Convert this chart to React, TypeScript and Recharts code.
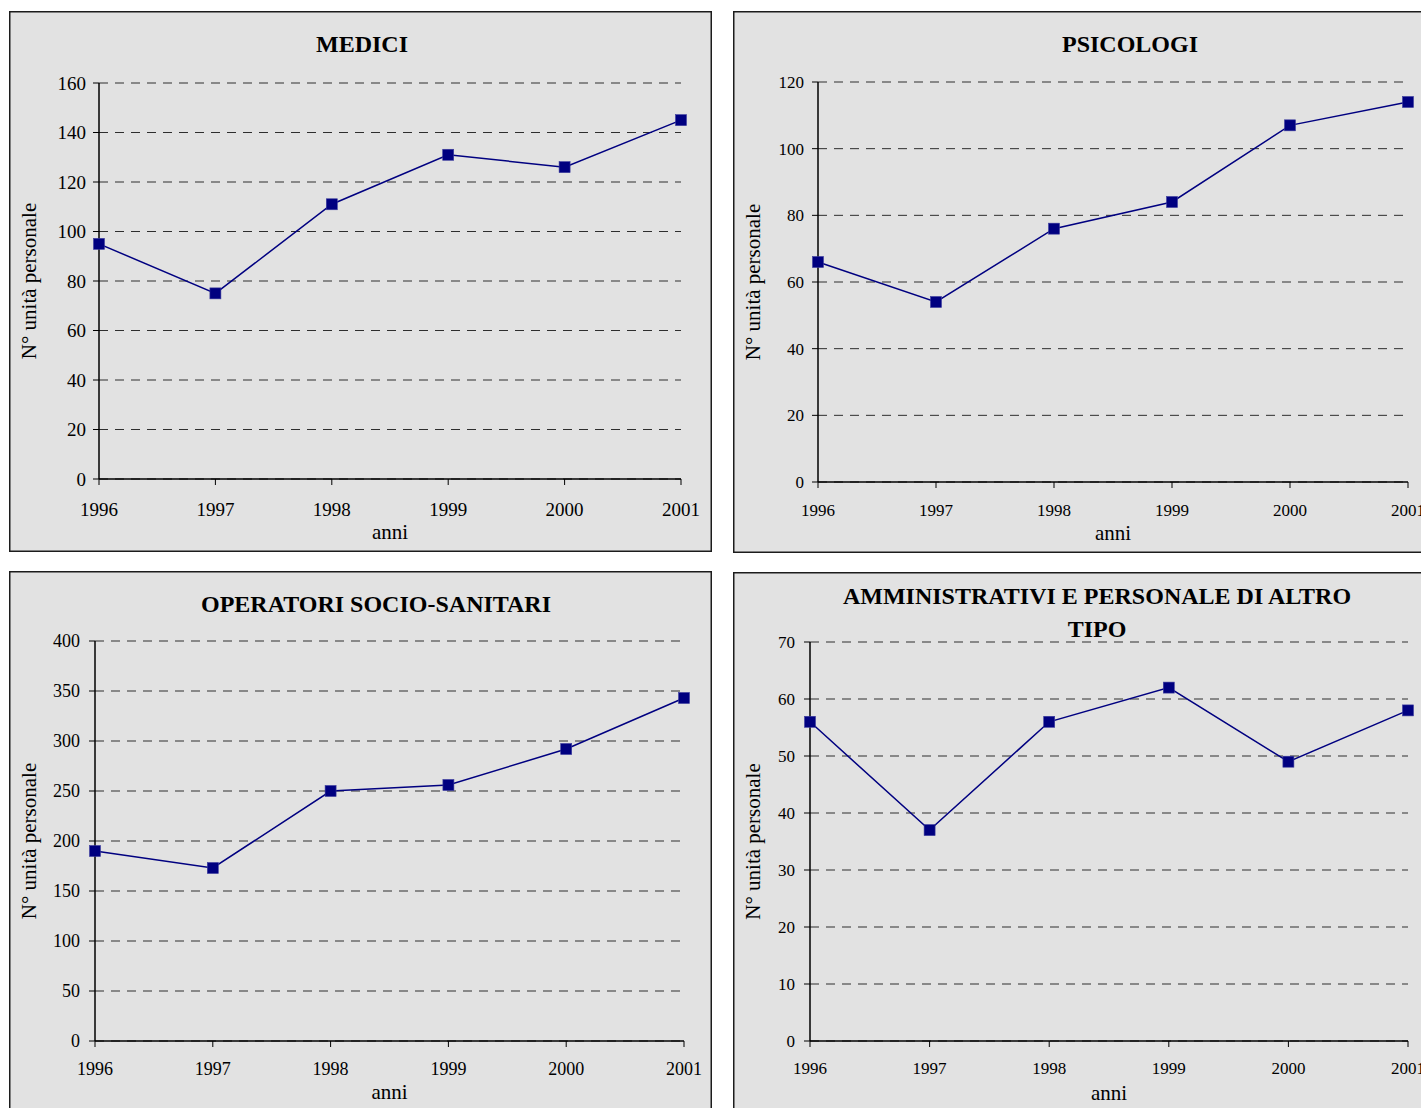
import { LineChart, Line, XAxis, YAxis, CartesianGrid } from 'recharts';

// Personale per categoria, 1996-2001
const anni = [1996, 1997, 1998, 1999, 2000, 2001];
const medici = [95, 75, 111, 131, 126, 145];
const psicologi = [66, 54, 76, 84, 107, 114];
const operatori = [190, 173, 250, 256, 292, 343];
const amministrativi = [56, 37, 56, 62, 49, 58];

const ticksMedici = [0, 20, 40, 60, 80, 100, 120, 140, 160];
const ticksPsicologi = [0, 20, 40, 60, 80, 100, 120];
const ticksOperatori = [0, 50, 100, 150, 200, 250, 300, 350, 400];
const ticksAmministrativi = [0, 10, 20, 30, 40, 50, 60, 70];

const colors = {
  panel: '#e2e2e2',
  border: '#1c1c1c',
  grid: '#2e2e2e',
  axis: '#000000',
  series: '#000080',
  text: '#000000',
};

const FONT = 'Liberation Serif, Times New Roman, serif';

type Box = { x: number; y: number; w: number; h: number };
type Plot = { left: number; top: number; right: number; bottom: number };

interface PanelProps {
  title: string[];
  titleX: number;
  titleTop: number;
  box: Box;
  plot: Plot;
  values: number[];
  yTicks: number[];
  tickFont: number;
  xTickMargin: number;
  yTickMargin: number;
}

const SquareDot = (props: any) => {
  const { cx, cy } = props;
  if (cx == null || cy == null) return null;
  return (
    <rect
      x={cx - 5.5}
      y={cy - 5.5}
      width={11}
      height={11}
      fill={colors.series}
      stroke="#3d3d9e"
      strokeWidth={0.6}
    />
  );
};

// serif tick labels, drawn at the position recharts computes
const makeTick = (size: number, side: 'x' | 'y') => (props: any) => {
  const { x, y, payload } = props;
  return (
    <text
      x={x}
      y={y}
      dy={side === 'x' ? '0.71em' : '0.355em'}
      textAnchor={side === 'x' ? 'middle' : 'end'}
      fill={colors.text}
      fontSize={size}
      fontFamily={FONT}
    >
      {payload.value}
    </text>
  );
};

function Panel({
  title,
  titleX,
  titleTop,
  box,
  plot,
  values,
  yTicks,
  tickFont,
  xTickMargin,
  yTickMargin,
}: PanelProps) {
  const data = anni.map((anno, i) => ({ anno, valore: values[i] }));
  const yMax = yTicks[yTicks.length - 1];

  return (
    <>
      <div
        style={{
          position: 'absolute',
          left: box.x,
          top: box.y,
          width: box.w,
          height: box.h,
          background: colors.panel,
          boxShadow: `inset 0 0 0 1.5px ${colors.border}`,
          fontFamily: FONT,
        }}
      >
        <LineChart
          width={box.w}
          height={box.h}
          data={data}
          margin={{
            top: plot.top - box.y,
            right: box.x + box.w - plot.right,
            bottom: 0,
            left: 0,
          }}
        >
          <CartesianGrid
            vertical={false}
            stroke={colors.grid}
            strokeDasharray="9 7"
          />
          <XAxis
            dataKey="anno"
            type="number"
            domain={[anni[0], anni[anni.length - 1]]}
            ticks={anni}
            interval={0}
            height={box.y + box.h - plot.bottom}
            tickSize={6}
            tickMargin={xTickMargin}
            tick={makeTick(tickFont, 'x')}
            axisLine={{ stroke: colors.axis, strokeWidth: 1.5 }}
            tickLine={{ stroke: colors.axis }}
            label={{
              value: 'anni',
              position: 'insideBottom',
              offset: 13,
              fill: colors.text,
              fontSize: 21,
              fontFamily: FONT,
            }}
          />
          <YAxis
            domain={[0, yMax]}
            ticks={yTicks}
            interval={0}
            width={plot.left - box.x}
            tickSize={6}
            tickMargin={yTickMargin}
            tick={makeTick(tickFont, 'y')}
            axisLine={{ stroke: colors.axis, strokeWidth: 1.5 }}
            tickLine={{ stroke: colors.axis }}
            label={{
              value: 'N° unità personale',
              angle: -90,
              position: 'insideLeft',
              offset: 20,
              textAnchor: 'middle',
              style: { textAnchor: 'middle' },
              fill: colors.text,
              fontSize: 21,
              fontFamily: FONT,
            }}
          />
          <Line
            type="linear"
            dataKey="valore"
            stroke={colors.series}
            strokeWidth={1.5}
            dot={<SquareDot />}
            activeDot={false}
            isAnimationActive={false}
          />
        </LineChart>
      </div>
      <div
        style={{
          position: 'absolute',
          left: titleX,
          top: titleTop,
          transform: 'translateX(-50%)',
          fontFamily: FONT,
          fontWeight: 'bold',
          fontSize: 24,
          lineHeight: '33px',
          color: colors.text,
          textAlign: 'center',
          whiteSpace: 'nowrap',
        }}
      >
        {title.map((line) => (
          <div key={line}>{line}</div>
        ))}
      </div>
    </>
  );
}

export default function App() {
  return (
    <div
      style={{
        position: 'absolute',
        left: 0,
        top: 0,
        width: 1421,
        height: 1108,
        overflow: 'hidden',
        background: '#ffffff',
      }}
    >
      <Panel
        title={['MEDICI']}
        titleX={362}
        titleTop={28}
        box={{ x: 9, y: 11, w: 703, h: 541 }}
        plot={{ left: 99, top: 83, right: 681, bottom: 479 }}
        values={medici}
        yTicks={ticksMedici}
        tickFont={19}
        xTickMargin={18}
        yTickMargin={7}
      />
      <Panel
        title={['PSICOLOGI']}
        titleX={1130}
        titleTop={28}
        box={{ x: 733, y: 11, w: 720, h: 542 }}
        plot={{ left: 818, top: 82, right: 1408, bottom: 482 }}
        values={psicologi}
        yTicks={ticksPsicologi}
        tickFont={17}
        xTickMargin={16}
        yTickMargin={8}
      />
      <Panel
        title={['OPERATORI SOCIO-SANITARI']}
        titleX={376}
        titleTop={588}
        box={{ x: 9, y: 571, w: 703, h: 541 }}
        plot={{ left: 95, top: 641, right: 684, bottom: 1041 }}
        values={operatori}
        yTicks={ticksOperatori}
        tickFont={18}
        xTickMargin={15}
        yTickMargin={9}
      />
      <Panel
        title={['AMMINISTRATIVI E PERSONALE DI ALTRO', 'TIPO']}
        titleX={1097}
        titleTop={580}
        box={{ x: 733, y: 572, w: 720, h: 541 }}
        plot={{ left: 810, top: 642, right: 1408, bottom: 1041 }}
        values={amministrativi}
        yTicks={ticksAmministrativi}
        tickFont={17}
        xTickMargin={15}
        yTickMargin={9}
      />
    </div>
  );
}
